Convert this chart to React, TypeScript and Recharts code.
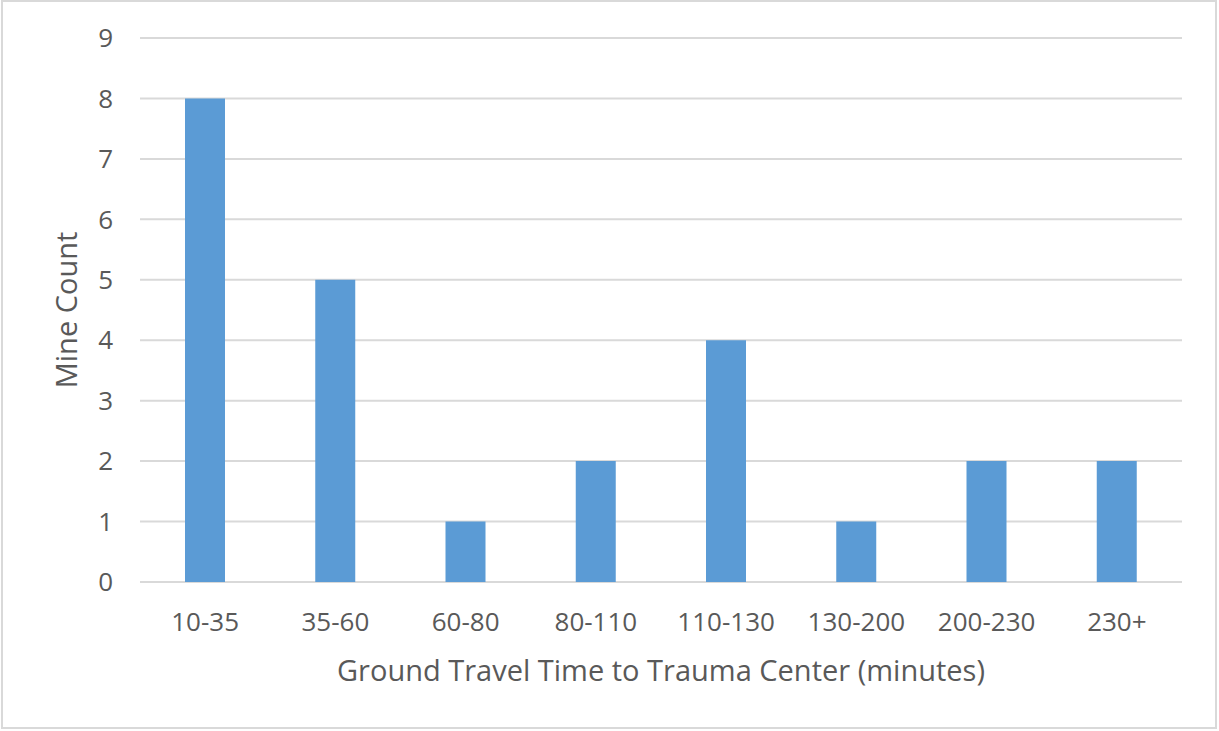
import { BarChart, Bar, XAxis, YAxis, CartesianGrid } from 'recharts'

const categories = ['10-35', '35-60', '60-80', '80-110', '110-130', '130-200', '200-230', '230+']
const mineCounts = [8, 5, 1, 2, 4, 1, 2, 2]
const yTicks = [0, 1, 2, 3, 4, 5, 6, 7, 8, 9]

const data = categories.map((c, i) => ({ range: c, count: mineCounts[i] }))

const TEXT = '#595959'
const FONT = '"Open Sans", sans-serif'

export default function App() {
  return (
    <div style={{ position: 'absolute', left: 0, top: 0, width: 1219, height: 731, background: '#fff' }}>
      <div
        style={{
          position: 'absolute', left: 1, top: 0, width: 1216, height: 729,
          border: '2px solid #d9d9d9', boxSizing: 'border-box',
        }}
      />
      <BarChart
        width={1219}
        height={731}
        data={data}
        margin={{ top: 38, right: 37, left: 0, bottom: 0 }}
        style={{ fontFamily: FONT }}
      >
        <CartesianGrid vertical={false} stroke="#d9d9d9" strokeWidth={2} />
        <XAxis
          dataKey="range"
          height={149}
          axisLine={false}
          tickLine={false}
          tickSize={0}
          tickMargin={31}
          tick={{ fill: TEXT, fontSize: 26, fontFamily: FONT }}
          interval={0}
          label={{
            value: 'Ground Travel Time to Trauma Center (minutes)',
            position: 'insideBottom',
            offset: 50,
            fill: TEXT,
            fontSize: 29,
            fontFamily: FONT,
          }}
        />
        <YAxis
          width={140}
          domain={[0, 9]}
          ticks={yTicks}
          interval={0}
          axisLine={false}
          tickLine={false}
          tickSize={0}
          tickMargin={27}
          tick={{ fill: TEXT, fontSize: 26, fontFamily: FONT }}
          label={{
            value: 'Mine Count',
            angle: -90,
            position: 'center',
            dx: -3,
            fill: TEXT,
            fontSize: 29,
            fontFamily: FONT,
          }}
        />
        <Bar dataKey="count" fill="#5b9bd5" barSize={40} isAnimationActive={false} />
      </BarChart>
    </div>
  )
}
